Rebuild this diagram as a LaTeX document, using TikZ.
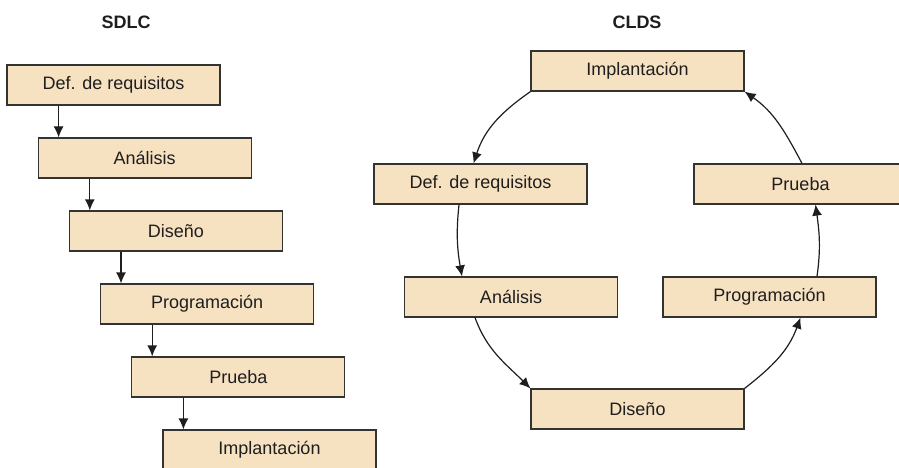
\documentclass[tikz,border=0pt]{standalone}
\usepackage{fontspec}
\setmainfont{Liberation Sans}
\usetikzlibrary{arrows.meta,calc}
\definecolor{boxfill}{HTML}{F6E1C1}
\definecolor{boxline}{HTML}{333333}
\definecolor{txt}{HTML}{1E1E1E}
\begin{document}
\begin{tikzpicture}[x=1pt,y=-1pt,
  stagebox/.style={draw=boxline,line width=1.2pt,fill=boxfill,minimum width=213pt,minimum height=40pt,inner sep=0pt,text=txt,font=\fontsize{18}{21}\selectfont},
  titletext/.style={text=txt,font=\fontsize{18}{21}\selectfont\bfseries},
  arr/.style={draw=txt,line width=1.2pt,-{Latex[length=11pt,width=10pt]}}]
\useasboundingbox (0,0) rectangle (899,468);
\begin{scope}
\clip (0,0) rectangle (899,468);
% titles
\node[titletext] (t1) at (126,22) {SDLC};
\node[titletext] (t2) at (637,22) {CLDS};
% left: waterfall
\node[stagebox] (a1) at (113.5,85) {Def. de requisitos};
\node[stagebox] (a2) at (144.7,158) {Análisis};
\node[stagebox] (a3) at (175.9,231) {Diseño};
\node[stagebox] (a4) at (207.1,304) {Programación};
\node[stagebox] (a5) at (238.3,377) {Prueba};
\node[stagebox] (a6) at (269.5,450) {Implantación};
\foreach \p/\n in {a1/a2,a2/a3,a3/a4,a4/a5,a5/a6}{
  \coordinate (tip-\n) at ($(\n.north west)+(21,0)$);
  \draw[arr] (\p.south -| tip-\n) -- (tip-\n);
}
% right: cycle
\node[stagebox] (b1) at (637.5,71) {Implantación};
\node[stagebox] (b2) at (480.5,184) {Def. de requisitos};
\node[stagebox] (b3) at (511,297) {Análisis};
\node[stagebox] (b4) at (637.5,409) {Diseño};
\node[stagebox] (b5) at (769.5,297) {Programación};
\node[stagebox] (b6) at (800.5,184) {Prueba};
\draw[arr] (b1.south west) to[out=215,in=72] ($(b2.north)+(-7,0)$);
\draw[arr] ($(b2.south)+(-21.5,0)$) to[out=264,in=100] ($(b3.north)+(-49,0)$);
\draw[arr] ($(b3.south)+(-36,0)$) to[out=290,in=135] (b4.north west);
\draw[arr] (b4.north east) to[out=38,in=250] ($(b5.south)+(31,0)$);
\draw[arr] ($(b5.north)+(47.5,0)$) to[out=82,in=-82] ($(b6.south)+(15,0)$);
\draw[arr] ($(b6.north)+(1.5,0)$) to[out=118,in=-35] (b1.south east);
\end{scope}
\end{tikzpicture}
\end{document}
